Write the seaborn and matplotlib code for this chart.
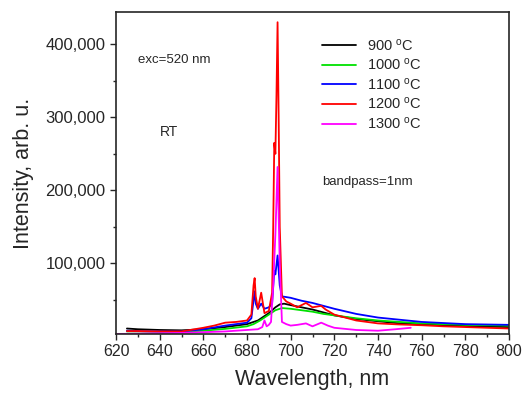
import pandas as pd
import numpy as np
import matplotlib
matplotlib.use("Agg")
import matplotlib.pyplot as plt
import seaborn as sns
from matplotlib.ticker import MultipleLocator, FuncFormatter

# PL SPECTRA:
wl_900 = [625, 630, 640, 650, 660, 670, 680, 685, 690, 693, 695, 697, 700, 705, 710, 715, 720, 730, 740, 750, 760, 770, 780, 790, 800]
int_900 = [11000, 10000, 9000, 8500, 10000, 13000, 17000, 22000, 32000, 40000, 44000, 45000, 43000, 40000, 37000, 33000, 29000, 24000, 21000, 18000, 16500, 15500, 14500, 13500, 13000]

wl_1000 = [625, 630, 640, 650, 660, 670, 680, 683, 686, 690, 693, 696, 700, 705, 710, 715, 720, 730, 740, 750, 760, 770, 780, 790, 800]
int_1000 = [7000, 7000, 6500, 6500, 8000, 10500, 14000, 17000, 22000, 30000, 36000, 39000, 38000, 36000, 34000, 31000, 29000, 25000, 22000, 20000, 18000, 17000, 16000, 15500, 15000]

wl_1100 = [625, 630, 640, 650, 660, 670, 675, 680, 682, 683, 683.5, 684, 685, 686.5, 688, 690, 691.5, 692.5, 693, 694, 695, 696, 698, 700, 705, 710, 715, 720, 730, 740, 750, 760, 770, 780, 790, 800]
int_1100 = [8000, 7500, 7000, 7000, 10000, 15000, 17000, 19000, 25000, 50000, 62000, 45000, 38000, 45000, 38000, 40000, 45000, 90000, 85000, 111000, 70000, 55000, 54000, 53000, 49000, 46000, 42000, 38000, 31000, 26000, 23000, 20000, 18500, 17000, 16500, 16000]

wl_1200 = [625, 630, 640, 650, 660, 665, 670, 675, 680, 682, 683, 683.5, 684, 685, 686.5, 688, 690, 691.5, 692, 692.5, 693, 693.5, 694, 694.5, 695, 696, 698, 700, 703, 707, 710, 714, 716, 720, 730, 740, 750, 760, 770, 780, 790, 800]
int_1200 = [7500, 7500, 7000, 7000, 12000, 15000, 19000, 20000, 22000, 30000, 70000, 80000, 55000, 38000, 60000, 32000, 35000, 60000, 150000, 265000, 250000, 330000, 430000, 300000, 150000, 55000, 48000, 45000, 40000, 46000, 40000, 42000, 37000, 30000, 22000, 18000, 16500, 15500, 14000, 13000, 12000, 11000]

wl_1300 = [620, 630, 640, 650, 660, 670, 680, 685, 687, 688, 689, 690, 691, 692, 693, 694, 695, 696, 698, 700, 703, 707, 710, 714, 717, 720, 730, 740, 748, 755]
int_1300 = [3500, 4000, 4500, 5000, 6000, 7000, 9000, 10000, 13000, 22000, 14000, 16000, 20000, 70000, 140000, 232000, 100000, 20000, 17000, 15000, 16000, 18000, 14000, 19000, 15000, 12000, 9000, 8000, 10000, 12000]

labels = ["900 $^{o}$C", "1000 $^{o}$C", "1100 $^{o}$C", "1200 $^{o}$C", "1300 $^{o}$C"]
colors = ["black", "#00e000", "blue", "red", "magenta"]

frames = []
for lab, x, y in zip(labels, [wl_900, wl_1000, wl_1100, wl_1200, wl_1300],
                     [int_900, int_1000, int_1100, int_1200, int_1300]):
    frames.append(pd.DataFrame({"wl": x, "intensity": y, "sample": lab}))
df = pd.concat(frames, ignore_index=True)

sns.set_style("ticks")
plt.rcParams['font.family'] = ['Liberation Sans', 'DejaVu Sans']
plt.rcParams['mathtext.default'] = 'regular'

fig = plt.figure(figsize=(5.31, 3.94), dpi=100)
ax = fig.add_axes([116/531, 1-334/394, (509-116)/531, (334-12)/394])
sns.lineplot(data=df, x="wl", y="intensity", hue="sample", palette=colors,
             linewidth=1.3, ax=ax, sort=False, estimator=None)

ax.set_xlim(620, 800)
ax.set_ylim(3500, 444000)
ax.xaxis.set_major_locator(MultipleLocator(20))
ax.xaxis.set_minor_locator(MultipleLocator(10))
ax.yaxis.set_major_locator(MultipleLocator(100000))
ax.yaxis.set_minor_locator(MultipleLocator(50000))
ax.yaxis.set_major_formatter(FuncFormatter(lambda v, p: f"{int(v):,}"))
ax.tick_params(axis="y", which="major", labelsize=12, direction="out", length=4, width=1)
ax.tick_params(axis="x", which="major", labelsize=11.5, direction="out", length=4, width=1)
ax.tick_params(axis="both", which="minor", direction="out", length=2.5, width=1)
for s in ax.spines.values():
    s.set_linewidth(1.2)

ax.set_xlabel("Wavelength, nm", fontsize=15.5, labelpad=7)
ax.set_ylabel("Intensity, arb. u.", fontsize=15.5, labelpad=8)

ax.legend(title=None, frameon=False, loc="upper left", bbox_to_anchor=(0.51, 0.94),
          fontsize=10.5, handlelength=2.3, labelspacing=0.25, borderaxespad=0)

ax.text(0.056, 0.85, "exc=520 nm", transform=ax.transAxes, fontsize=9.5, va="center")
ax.text(0.112, 0.627, "RT", transform=ax.transAxes, fontsize=10, va="center")
ax.text(0.524, 0.472, "bandpass=1nm", transform=ax.transAxes, fontsize=9.5, va="center")

plt.savefig("out.png", dpi=100)
